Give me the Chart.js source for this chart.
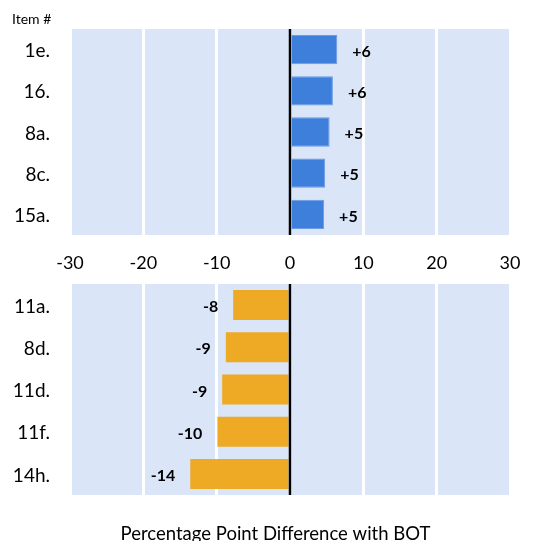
<!DOCTYPE html>
<html>
<head>
<meta charset="utf-8">
<script src="https://cdn.jsdelivr.net/npm/chart.js@4"></script>
<style>
  html, body { margin: 0; padding: 0; background: #fff; overflow: hidden; }
  #wrap { position: relative; width: 551px; height: 541px; }
  canvas { position: absolute; left: 0; }
  #topChart { top: 0; }
  #bottomChart { top: 270px; }
</style>
</head>
<body>
<div id="wrap">
  <canvas id="topChart" width="551" height="275"></canvas>
  <canvas id="bottomChart" width="551" height="271"></canvas>
</div>
<script>
const FONT = 'Lato, "Open Sans", sans-serif';

// top panel: items above BOT
const topItems = ['1e.', '16.', '8a.', '8c.', '15a.'];
const topValues = [6.45, 5.85, 5.4, 4.8, 4.65];

// bottom panel: items below BOT
const bottomItems = ['11a.', '8d.', '11d.', '11f.', '14h.'];
const bottomValues = [-7.75, -8.75, -9.25, -9.9, -13.6];

const axisTicks = [-30, -20, -10, 0, 10, 20, 30];
const axisTitle = 'Percentage Point Difference with BOT';

// light blue panel behind the bars
const panelBg = {
  id: 'panelBg',
  beforeDraw(chart) {
    const { ctx, chartArea: a } = chart;
    ctx.save();
    ctx.fillStyle = '#DAE5F7';
    ctx.fillRect(a.left, a.top, a.right - a.left, a.bottom - a.top);
    ctx.restore();
  }
};

// black zero line on top of bars, plus value labels
const zeroAndLabels = {
  id: 'zeroAndLabels',
  afterDatasetsDraw(chart) {
    const { ctx, chartArea: a } = chart;
    const x0 = chart.scales.x.getPixelForValue(0);
    ctx.save();
    ctx.strokeStyle = '#000';
    ctx.lineWidth = 2.5;
    ctx.beginPath();
    ctx.moveTo(x0, a.top);
    ctx.lineTo(x0, a.bottom);
    ctx.stroke();

    ctx.font = 'bold 16px ' + FONT;
    ctx.fillStyle = '#000';
    ctx.textBaseline = 'middle';
    const vals = chart.data.datasets[0].data;
    chart.getDatasetMeta(0).data.forEach((bar, i) => {
      const v = Math.round(vals[i]);
      if (v >= 0) {
        ctx.textAlign = 'left';
        ctx.fillText('+' + v, bar.x + 15, bar.y + 2);
      } else {
        ctx.textAlign = 'right';
        ctx.fillText(String(v), bar.x - 15, bar.y + 2);
      }
    });
    ctx.restore();
  }
};

function xScale(showTicks, height) {
  return {
    type: 'linear',
    min: -30,
    max: 30,
    afterBuildTicks: s => { s.ticks = axisTicks.map(v => ({ value: v })); },
    afterFit: s => { s.height = height; s.paddingLeft = 0; s.paddingRight = 0; },
    grid: { color: '#fff', lineWidth: 3, drawTicks: false },
    border: { display: false },
    ticks: {
      display: showTicks,
      padding: 17,
      color: '#000',
      font: { family: FONT, size: 18 },
      maxRotation: 0
    }
  };
}

function yScale() {
  return {
    type: 'category',
    afterFit: s => { s.width = 70; s.paddingTop = 0; s.paddingBottom = 0; },
    grid: { display: false, drawTicks: false },
    border: { display: false },
    ticks: {
      padding: 20,
      labelOffset: 1.5,
      color: '#000',
      font: { family: FONT, size: 19 }
    }
  };
}

function makeChart(id, labels, values, color, border, opts) {
  return new Chart(document.getElementById(id), {
    type: 'bar',
    data: {
      labels: labels,
      datasets: [{
        data: values,
        backgroundColor: color,
        borderColor: border,
        borderWidth: border ? 1 : 0,
        borderSkipped: 'start',
        barPercentage: 0.71,
        categoryPercentage: 1
      }]
    },
    options: {
      indexAxis: 'y',
      responsive: false,
      animation: false,
      layout: { padding: opts.padding },
      plugins: { legend: { display: false }, tooltip: { enabled: false } },
      scales: { x: xScale(opts.showTicks, opts.xHeight), y: yScale() }
    },
    plugins: [panelBg, zeroAndLabels, opts.extra]
  });
}

const itemHeader = {
  id: 'itemHeader',
  afterDraw(chart) {
    const ctx = chart.ctx;
    ctx.save();
    ctx.font = '14px ' + FONT;
    ctx.fillStyle = '#000';
    ctx.textAlign = 'left';
    ctx.textBaseline = 'middle';
    ctx.fillText('Item #', 12, 19);
    ctx.restore();
  }
};

const bottomTitle = {
  id: 'bottomTitle',
  afterDraw(chart) {
    const ctx = chart.ctx;
    ctx.save();
    ctx.font = '18.5px ' + FONT;
    ctx.fillStyle = '#000';
    ctx.textAlign = 'center';
    ctx.textBaseline = 'alphabetic';
    ctx.fillText(axisTitle, chart.width / 2, 270);
    ctx.restore();
  }
};

makeChart('topChart', topItems, topValues, '#3F7FDC', '#6B9BE3', {
  padding: { top: 29, right: 41, bottom: 0, left: 0 },
  showTicks: true,
  xHeight: 40,
  extra: itemHeader
});

makeChart('bottomChart', bottomItems, bottomValues, '#EEAA24', null, {
  padding: { top: 14, right: 41, bottom: 0, left: 0 },
  showTicks: false,
  xHeight: 46,
  extra: bottomTitle
});
</script>
</body>
</html>
